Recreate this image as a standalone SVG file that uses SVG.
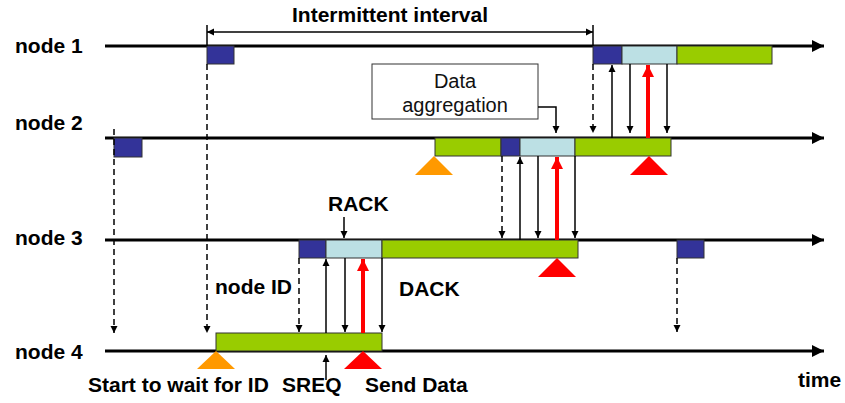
<svg xmlns="http://www.w3.org/2000/svg" width="845" height="403" viewBox="0 0 845 403">
  <defs>
    <style>
      .lbl { font-family: "Liberation Sans", Arial, sans-serif; font-weight: bold; font-size: 21px; fill: #000; }
      .box-txt { font-family: "Liberation Sans", Arial, sans-serif; font-size: 20px; fill: #111; text-anchor: middle; }
      .axis { stroke: #000; stroke-width: 3; fill: none; }
      .blk { fill: #333399; stroke: #333; stroke-width: 1; }
      .lb { fill: #BCE0E4; stroke: #333; stroke-width: 1; }
      .gr { fill: #99CC00; stroke: #333; stroke-width: 1; }
      .orange { fill: #FF9900; }
      .red { fill: #FF0000; }
      .msg { stroke: #000; stroke-width: 1.5; fill: none; }
      .dash { stroke: #000; stroke-width: 1.5; fill: none; stroke-dasharray: 6 4; }
      .data { stroke: #FF0000; stroke-width: 4; fill: none; }
    </style>
    <marker id="head" viewBox="0 0 10 10" refX="10" refY="5" markerWidth="7" markerHeight="9" markerUnits="userSpaceOnUse" orient="auto">
      <path d="M0,0 L10,5 L0,10 z" fill="#000"/>
    </marker>
    <marker id="headBig" viewBox="0 0 10 10" refX="10" refY="5" markerWidth="12" markerHeight="14" markerUnits="userSpaceOnUse" orient="auto">
      <path d="M0,0 L10,5 L0,10 z" fill="#000"/>
    </marker>
    <marker id="headRed" viewBox="0 0 10 10" refX="10" refY="5" markerWidth="12" markerHeight="13" markerUnits="userSpaceOnUse" orient="auto">
      <path d="M0,0 L10,5 L0,10 z" fill="#FF0000"/>
    </marker>
  </defs>

  <rect width="845" height="403" fill="#fff"/>

  <!-- time axes -->
  <g id="node1">
    <text class="lbl" x="15" y="53">node 1</text>
    <line class="axis" x1="105" y1="46" x2="824" y2="46" marker-end="url(#headBig)"/>
    <rect class="blk" x="207" y="46" width="27" height="18"/>
    <rect class="blk" x="593" y="46" width="29" height="18"/>
    <rect class="lb" x="622" y="46" width="55" height="18"/>
    <rect class="gr" x="677" y="46" width="95" height="18"/>
  </g>

  <g id="node2">
    <text class="lbl" x="15" y="130">node 2</text>
    <line class="axis" x1="105" y1="138" x2="824" y2="138" marker-end="url(#headBig)"/>
    <rect class="blk" x="114" y="138" width="28" height="19"/>
    <rect class="gr" x="435" y="138" width="66" height="18"/>
    <rect class="blk" x="501" y="138" width="19" height="18"/>
    <rect class="lb" x="520" y="138" width="55" height="18"/>
    <rect class="gr" x="575" y="138" width="96" height="18"/>
    <polygon class="orange" points="434,156 415,175 453,175"/>
    <polygon class="red" points="649,156 630,175 668,175"/>
  </g>

  <g id="node3">
    <text class="lbl" x="15" y="245">node 3</text>
    <line class="axis" x1="105" y1="240" x2="824" y2="240" marker-end="url(#headBig)"/>
    <rect class="blk" x="299" y="240" width="27" height="18"/>
    <rect class="lb" x="326" y="240" width="56" height="18"/>
    <rect class="gr" x="382" y="240" width="196" height="18"/>
    <rect class="blk" x="677" y="240" width="27" height="18"/>
    <polygon class="red" points="557,258 538,277 576,277"/>
  </g>

  <g id="node4">
    <text class="lbl" x="15" y="359">node 4</text>
    <line class="axis" x1="105" y1="351" x2="824" y2="351" marker-end="url(#headBig)"/>
    <rect class="gr" x="216" y="333" width="166" height="18"/>
    <polygon class="orange" points="216,351 197,369 235,369"/>
    <polygon class="red" points="363,351 344,369 382,369"/>
  </g>

  <g id="aggregation">
    <rect x="372" y="64" width="166" height="55" fill="#fff" stroke="#333" stroke-width="1"/>
    <text class="box-txt" x="455" y="88">Data</text>
    <text class="box-txt" x="455" y="112">aggregation</text>
  </g>

  <!-- labels -->
  <g id="labels">
    <text class="lbl" x="292" y="22">Intermittent interval</text>
    <text class="lbl" x="328" y="211">RACK</text>
    <text class="lbl" x="215" y="294">node ID</text>
    <text class="lbl" x="399" y="296">DACK</text>
    <text class="lbl" x="88" y="392">Start to wait for ID</text>
    <text class="lbl" x="282" y="392">SREQ</text>
    <text class="lbl" x="365" y="392">Send Data</text>
    <text class="lbl" x="798" y="387">time</text>
  </g>

  <g id="connectors">
    <!-- intermittent interval span -->
    <line class="msg" x1="207" y1="25" x2="207" y2="46" stroke-width="1"/>
    <line class="msg" x1="593" y1="25" x2="593" y2="46" stroke-width="1"/>
    <line class="msg" x1="215" y1="32" x2="207" y2="32" marker-end="url(#head)"/>
    <line class="msg" x1="215" y1="32" x2="593" y2="32" marker-end="url(#head)"/>

    <!-- wake-up beacons (dashed) -->
    <line class="dash" x1="114" y1="129" x2="114" y2="333" marker-end="url(#head)"/>
    <line class="dash" x1="207" y1="64" x2="207" y2="333" marker-end="url(#head)"/>
    <line class="dash" x1="593" y1="64" x2="593" y2="133" marker-end="url(#head)"/>
    <line class="dash" x1="502" y1="156" x2="502" y2="238" marker-end="url(#head)"/>
    <line class="dash" x1="299" y1="258" x2="299" y2="332" marker-end="url(#head)"/>
    <line class="dash" x1="677" y1="258" x2="677" y2="332" marker-end="url(#head)"/>

    <!-- node 2 to node 1 exchange -->
    <line class="msg" x1="612" y1="138" x2="612" y2="65" marker-end="url(#head)"/>
    <line class="msg" x1="630" y1="64" x2="630" y2="133" marker-end="url(#head)"/>
    <line class="data" x1="648" y1="138" x2="648" y2="65" marker-end="url(#headRed)"/>
    <line class="msg" x1="667" y1="64" x2="667" y2="133" marker-end="url(#head)"/>

    <!-- node 3 to node 2 exchange -->
    <line class="msg" x1="520" y1="240" x2="520" y2="157" marker-end="url(#head)"/>
    <line class="msg" x1="538" y1="156" x2="538" y2="238" marker-end="url(#head)"/>
    <line class="data" x1="557" y1="240" x2="557" y2="157" marker-end="url(#headRed)"/>
    <line class="msg" x1="575" y1="156" x2="575" y2="238" marker-end="url(#head)"/>

    <!-- node 4 to node 3 exchange -->
    <line class="msg" x1="326" y1="333" x2="326" y2="259" marker-end="url(#head)"/>
    <line class="msg" x1="345" y1="258" x2="345" y2="332" marker-end="url(#head)"/>
    <line class="data" x1="363" y1="333" x2="363" y2="259" marker-end="url(#headRed)"/>
    <line class="msg" x1="382" y1="258" x2="382" y2="332" marker-end="url(#head)"/>

    <!-- label pointers -->
    <line class="msg" x1="344" y1="217" x2="344" y2="238" marker-end="url(#head)"/>
    <line class="msg" x1="326" y1="380" x2="326" y2="355" marker-end="url(#head)"/>
    <polyline class="msg" points="538,107 556,107 556,133" stroke="#333" marker-end="url(#head)"/>
  </g>
</svg>
